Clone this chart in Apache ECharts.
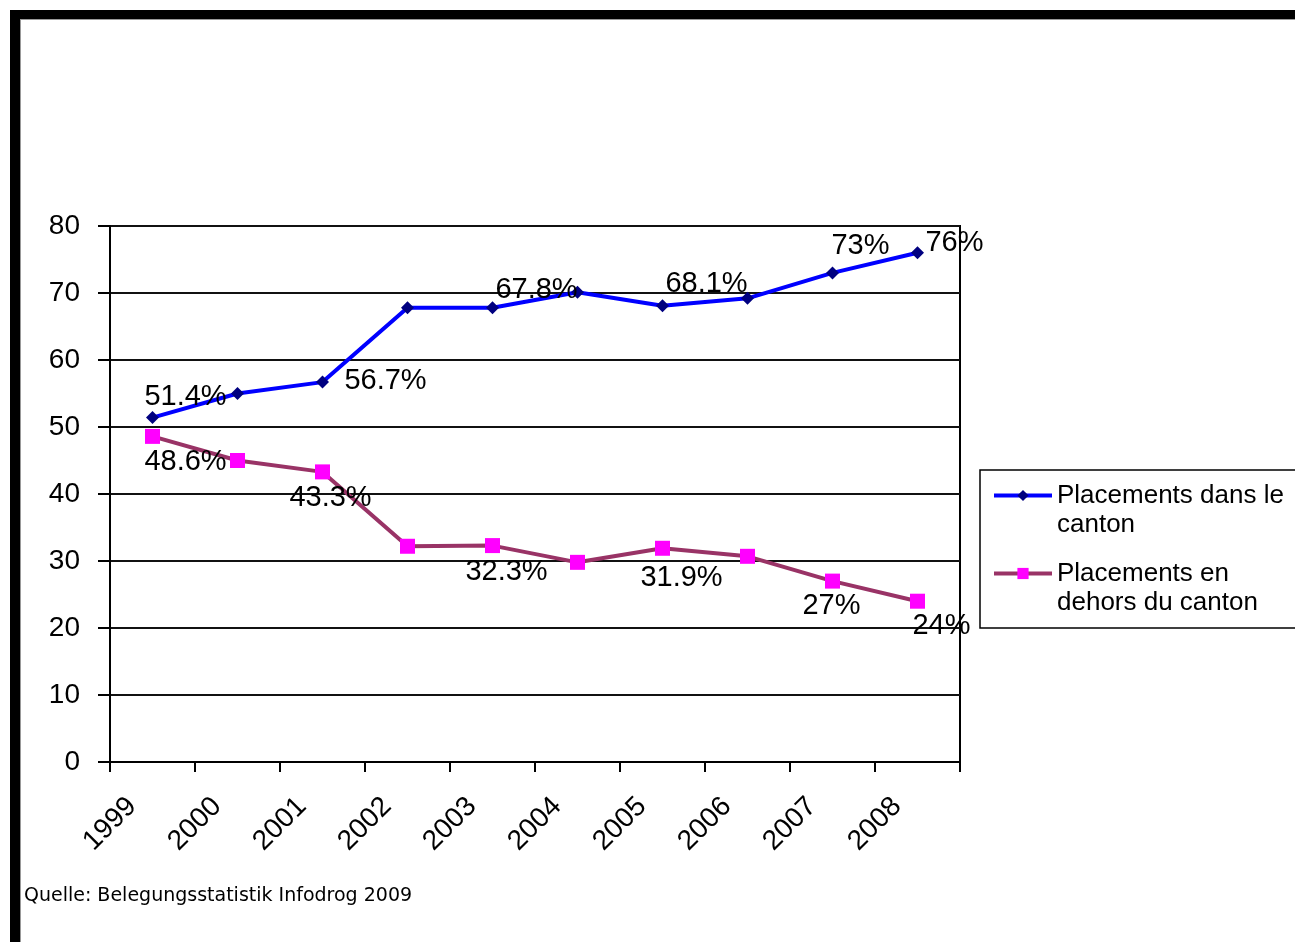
<!DOCTYPE html>
<html>
<head>
<meta charset="utf-8">
<script src="https://cdn.jsdelivr.net/npm/echarts@6/dist/echarts.min.js"></script>
<style>
html,body{margin:0;padding:0;background:#fff;}
#c{width:1295px;height:942px;}
</style>
</head>
<body>
<div id="c"></div>
<script>
// ---- data ----
const years = ['1999','2000','2001','2002','2003','2004','2005','2006','2007','2008'];
const inCanton = [51.4, 55.0, 56.7, 67.8, 67.8, 70.1, 68.1, 69.2, 73, 76];
const outCanton = [48.6, 45.0, 43.3, 32.2, 32.3, 29.8, 31.9, 30.7, 27, 24];
const yTicks = [0, 10, 20, 30, 40, 50, 60, 70, 80];
const seriesNames = ['Placements dans le canton', 'Placements en dehors du canton'];
const legendLabels = ['Placements dans le\ncanton', 'Placements en\ndehors du canton'];
const footer = 'Quelle: Belegungsstatistik Infodrog 2009';

// ---- label layout (style only) ----
const inLabelOffsets = {0: [33, -21], 2: [63, -1], 4: [44, -18], 6: [44, -22], 8: [28, -27], 9: [37, -10]};
const outLabelOffsets = {0: [33, 26], 2: [8, 26], 4: [14, 26], 6: [19, 30], 8: [-1, 25], 9: [24, 25]};

const FONT = "'Liberation Sans', Arial, sans-serif";

function buildData(values, offsets) {
  return values.map((v, i) => {
    const item = { value: [i + 0.5, v] };
    if (offsets[i]) {
      item.label = { show: true, position: 'inside', offset: offsets[i] };
    }
    return item;
  });
}

const labelStyle = {
  show: false,
  formatter: p => p.value[1] + '%',
  color: '#000',
  fontFamily: FONT,
  fontSize: 29
};

const chart = echarts.init(document.getElementById('c'), null, { renderer: 'canvas' });

function legendCfg(idx, top) {
  return {
    data: [seriesNames[idx]],
    left: 992,
    top: top,
    padding: 0,
    itemWidth: 58,
    itemHeight: 14,
    selectedMode: false,
    lineStyle: { width: 4 },
    formatter: name => '\n' + legendLabels[seriesNames.indexOf(name)],
    textStyle: {
      fontFamily: FONT,
      fontSize: 26,
      lineHeight: 29,
      color: '#000'
    }
  };
}

chart.setOption({
  animation: false,
  backgroundColor: '#fff',
  title: {
    text: footer,
    left: 24,
    top: 887,
    padding: 0,
    textStyle: { fontFamily: "'DejaVu Sans', sans-serif", fontSize: 19, fontWeight: 'normal', color: '#000' }
  },
  legend: [legendCfg(0, 452), legendCfg(1, 530)],
  grid: {
    left: 110, right: 335, top: 226, bottom: 180,
    show: true, borderColor: '#000', borderWidth: 2, backgroundColor: 'transparent'
  },
  xAxis: {
    type: 'value',
    min: 0, max: 10, interval: 1,
    axisLine: { show: true, lineStyle: { color: '#000', width: 2 } },
    axisTick: { show: true, length: 10, lineStyle: { color: '#000', width: 2 } },
    splitLine: { show: false },
    axisLabel: {
      rotate: 45,
      align: 'center',
      verticalAlign: 'middle',
      margin: 62,
      fontFamily: FONT,
      fontSize: 28,
      color: '#000',
      showMaxLabel: true,
      formatter: v => (years[v] !== undefined ? years[v] : '')
    }
  },
  yAxis: {
    type: 'value',
    min: yTicks[0], max: yTicks[yTicks.length - 1], interval: 10,
    axisLine: { show: true, lineStyle: { color: '#000', width: 2 } },
    axisTick: { show: true, length: 12, lineStyle: { color: '#000', width: 2 } },
    splitLine: { show: true, lineStyle: { color: '#111', width: 2 } },
    axisLabel: { margin: 30, fontFamily: FONT, fontSize: 28, color: '#000' }
  },
  series: [
    {
      name: seriesNames[0],
      type: 'line',
      data: buildData(inCanton, inLabelOffsets),
      symbol: 'diamond',
      symbolSize: 13,
      lineStyle: { color: '#0000ff', width: 4 },
      itemStyle: { color: '#000080' },
      label: labelStyle,
      z: 3
    },
    {
      name: seriesNames[1],
      type: 'line',
      data: buildData(outCanton, outLabelOffsets),
      symbol: 'rect',
      symbolSize: 15,
      lineStyle: { color: '#993366', width: 4 },
      itemStyle: { color: '#ff00ff' },
      label: labelStyle,
      z: 2
    }
  ],
  graphic: [
    { type: 'rect', shape: { x: 10, y: 10, width: 1285, height: 9 }, style: { fill: '#000' }, silent: true },
    { type: 'rect', shape: { x: 10, y: 10, width: 10, height: 932 }, style: { fill: '#000' }, silent: true },
    { type: 'rect', shape: { x: 20, y: 19, width: 1275, height: 1 }, style: { fill: '#999' }, silent: true },
    { type: 'rect', shape: { x: 20, y: 19, width: 1, height: 923 }, style: { fill: '#999' }, silent: true },
    { type: 'rect', shape: { x: 980, y: 470, width: 330, height: 158 }, style: { fill: 'none', stroke: '#000', lineWidth: 1.5 }, silent: true }
  ]
});
</script>
</body>
</html>
